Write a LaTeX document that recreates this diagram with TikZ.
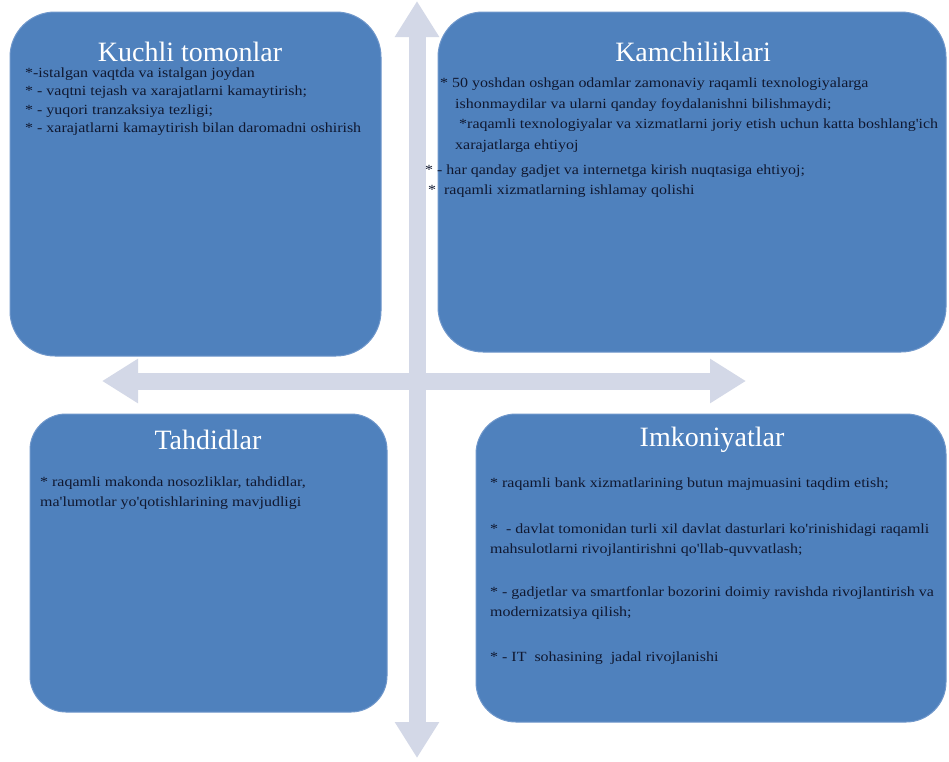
\documentclass[tikz,border=0pt]{standalone}
\usepackage{fontspec}
\setmainfont{Liberation Serif}
\newfontfamily\bodyfont[FakeStretch=1.14]{Liberation Serif}
\usetikzlibrary{arrows.meta}
\definecolor{boxblue}{HTML}{4F81BD}
\definecolor{boxedge}{HTML}{6F97CB}
\definecolor{axiscol}{HTML}{D3D8E7}
\definecolor{txtcol}{HTML}{101830}
\tikzset{
  quad/.style={fill=boxblue, draw=boxedge, line width=1pt},
  ttl/.style={text=white, font=\fontsize{28}{32}\selectfont, inner sep=0pt},
  itm/.style={text=txtcol, font=\bodyfont\fontsize{14}{16}\selectfont, anchor=west, inner sep=0pt},
  axis/.style={draw=axiscol, line width=17pt,
    {Triangle[width=42pt,length=36pt]}-{Triangle[width=42pt,length=36pt]}, axiscol}
}
\begin{document}
\begin{tikzpicture}[x=1pt,y=-1pt]
\useasboundingbox (0,0) rectangle (949,761);
\fill[white] (0,0) rectangle (949,761);
% axes
\coordinate (vt) at (417,1);
\coordinate (vb) at (417,758);
\coordinate (hl) at (102,381);
\coordinate (hr) at (746,381);
\draw[axis] (vt) -- (vb);
\draw[axis] (hl) -- (hr);
% boxes
\draw[quad, rounded corners=45pt] (10,12) rectangle (381,356);
\draw[quad, rounded corners=45pt] (438,12) rectangle (946,352);
\draw[quad, rounded corners=36pt] (30,414) rectangle (387,712);
\draw[quad, rounded corners=40pt] (476,414) rectangle (946,722);
% titles
\node[ttl] (t1) at (190,52) {Kuchli tomonlar};
\node[ttl] (t2) at (693,52) {Kamchiliklari};
\node[ttl] (t3) at (208,440) {Tahdidlar};
\node[ttl] (t4) at (712,440) {Imkoniyatlar};
% box 1
\node[itm] (a1) at (25,74) {*-istalgan vaqtda va istalgan joydan};
\node[itm] (a2) at (25,92) {* - vaqtni tejash va xarajatlarni kamaytirish;};
\node[itm] (a3) at (25,111) {* - yuqori tranzaksiya tezligi;};
\node[itm] (a4) at (25,129) {* - xarajatlarni kamaytirish bilan daromadni oshirish};
% box 2
\node[itm] (b1) at (440,84) {* 50 yoshdan oshgan odamlar zamonaviy raqamli texnologiyalarga};
\node[itm] (b2) at (455,105) {ishonmaydilar va ularni qanday foydalanishni bilishmaydi;};
\node[itm] (b3) at (459,125) {*raqamli texnologiyalar va xizmatlarni joriy etish uchun katta boshlang'ich};
\node[itm] (b4) at (455,146) {xarajatlarga ehtiyoj};
\node[itm] (b5) at (425,171) {* - har qanday gadjet va internetga kirish nuqtasiga ehtiyoj;};
\node[itm] (b6) at (428,191) {* \ raqamli xizmatlarning ishlamay qolishi};
% box 3
\node[itm] (c1) at (40,483) {* raqamli makonda nosozliklar, tahdidlar,};
\node[itm] (c2) at (40,503) {ma'lumotlar yo'qotishlarining mavjudligi};
% box 4
\node[itm] (d1) at (490,484) {* raqamli bank xizmatlarining butun majmuasini taqdim etish;};
\node[itm] (d2) at (490,530) {* \ - davlat tomonidan turli xil davlat dasturlari ko'rinishidagi raqamli};
\node[itm] (d3) at (490,550) {mahsulotlarni rivojlantirishni qo'llab-quvvatlash;};
\node[itm] (d4) at (490,593) {* - gadjetlar va smartfonlar bozorini doimiy ravishda rivojlantirish va};
\node[itm] (d5) at (490,613) {modernizatsiya qilish;};
\node[itm] (d6) at (490,658) {* - IT \ sohasining \ jadal rivojlanishi};
\end{tikzpicture}
\end{document}
